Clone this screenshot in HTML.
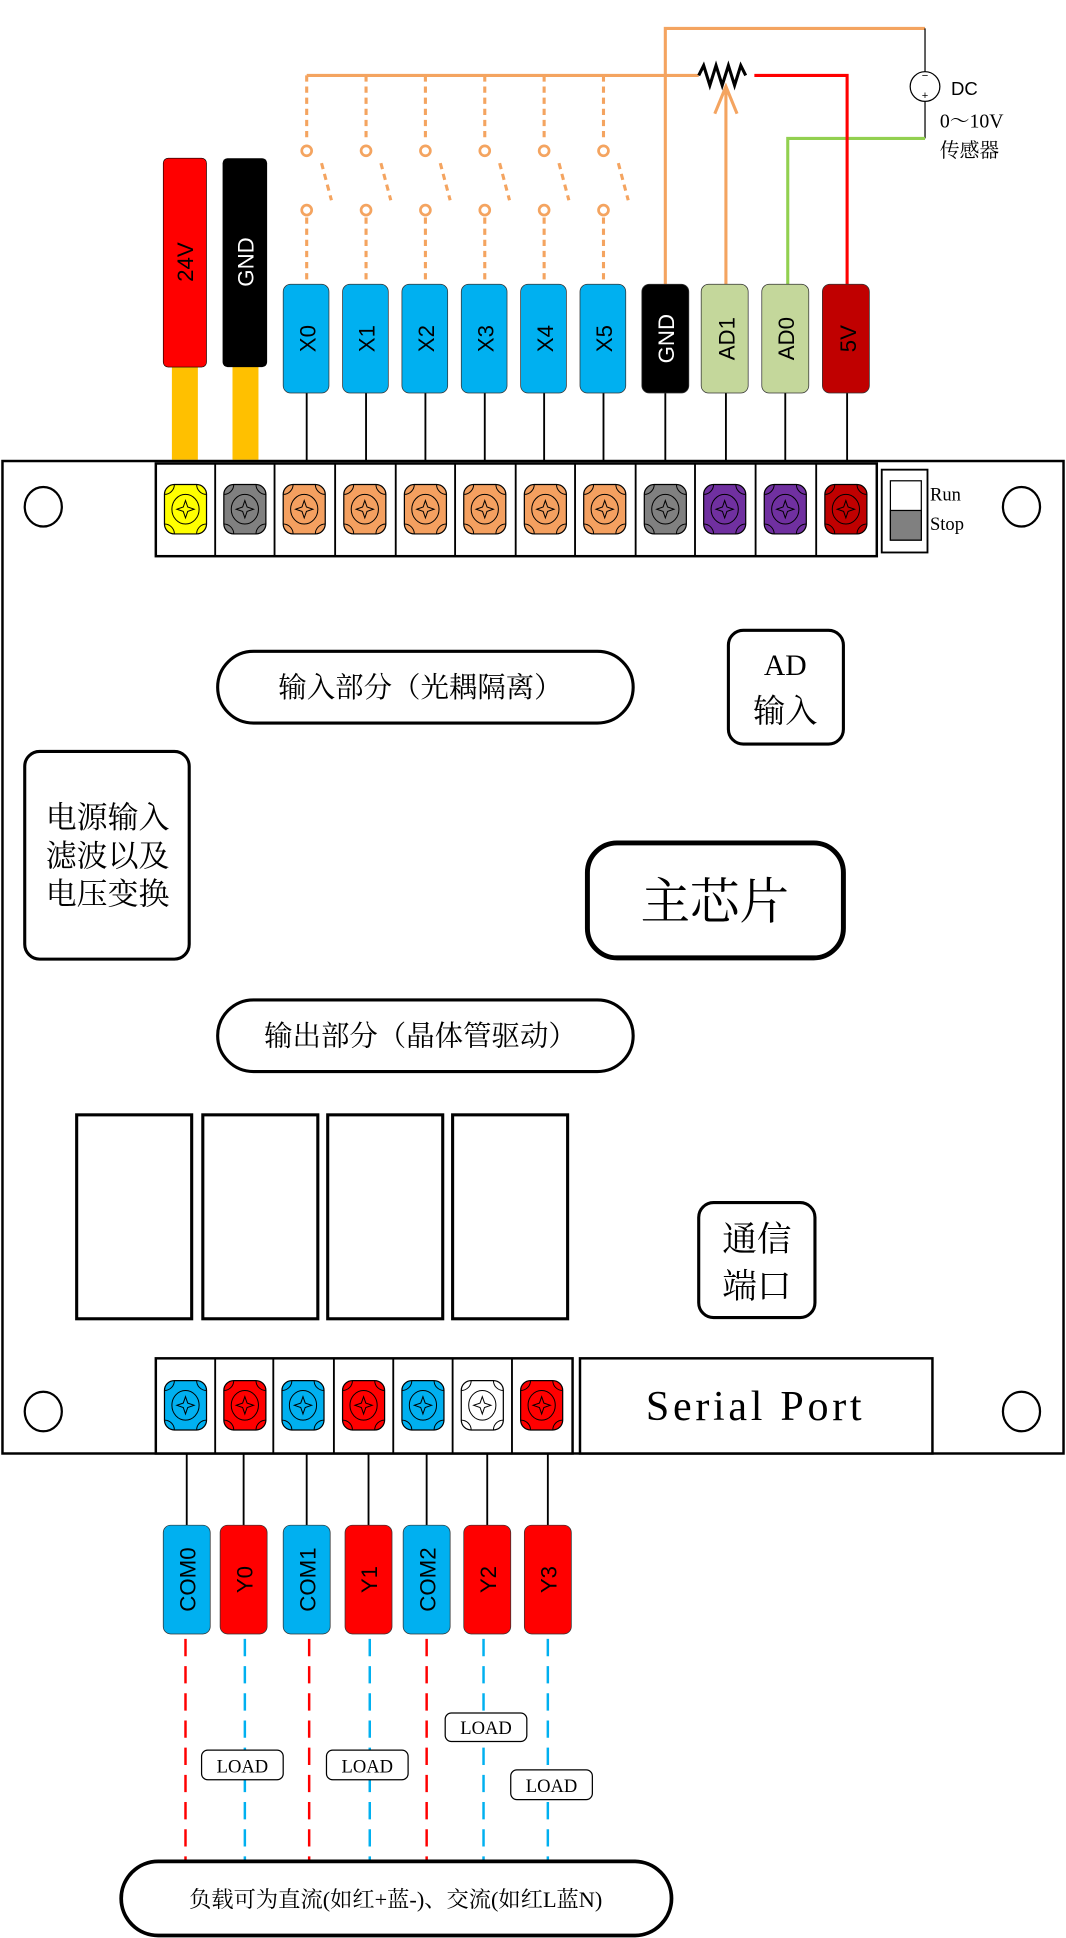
<!DOCTYPE html>
<html><head><meta charset="utf-8"><style>
html,body{margin:0;padding:0;background:#fff}
svg{display:block}
.cn{font-family:"Liberation Serif","Noto Serif CJK SC",serif}
.lb{font-family:"Liberation Sans","DejaVu Sans",sans-serif}
</style></head><body>
<svg width="1066" height="1938" viewBox="0 0 862 1568" preserveAspectRatio="none" xmlns="http://www.w3.org/2000/svg">
<defs>
<g id="sc">
<rect x="-17" y="-20" width="34" height="40" rx="8" stroke="#000" stroke-width="1"/>
<path d="M-17,-12 A8,8 0 0 0 -9,-20 M17,-12 A8,8 0 0 1 9,-20 M-17,12 A8,8 0 0 1 -9,20 M17,12 A8,8 0 0 0 9,20" fill="none" stroke="#000" stroke-width="0.8"/>
<ellipse cx="0" cy="0" rx="11" ry="12" fill="none" stroke="#000" stroke-width="0.8"/>
<path d="M0,-7 L1.8,-1.8 L7,0 L1.8,1.8 L0,7 L-1.8,1.8 L-7,0 L-1.8,-1.8Z" fill="none" stroke="#000" stroke-width="0.8"/>
</g>
</defs>

<g fill="none">
<path d="M538,230 V23 H748" stroke="#f4a460" stroke-width="2.5"/>
<path d="M248,61 H565" stroke="#f4a460" stroke-width="2.5"/>
<path d="M748,23 V58 M748,82 V112" stroke="#000" stroke-width="1"/>
<path d="M748,112 H637 V230" stroke="#92d050" stroke-width="2.5"/>
<path d="M610,61 H685 V230" stroke="#ff0000" stroke-width="2.5"/>
<path d="M565,61 l4,-8 l5,16 l5,-16 l5,16 l5,-16 l5,16 l5,-16 l4,8" stroke="#000" stroke-width="2.5"/>
<path d="M587,230 V72 M578,92 L587,70 L596,92" stroke="#f4a460" stroke-width="2.5"/>
<circle cx="748" cy="70" r="12" stroke="#000" stroke-width="1"/>
</g>
<text x="748" y="64" font-size="9" text-anchor="middle" class="lb">−</text>
<text x="748" y="80" font-size="9" text-anchor="middle" class="lb">+</text>
<text x="769" y="77" font-size="15" class="lb">DC</text>
<text x="760" y="103" font-size="16" class="cn">0～10V</text>
<text x="760" y="127" font-size="16" class="cn">传感器</text>

<g stroke="#f4a460" stroke-width="2.5" fill="none" stroke-dasharray="5,4">
<path d="M248,61V115M248,176V230M260,132L268,162"/>
<path d="M296,61V115M296,176V230M308,132L316,162"/>
<path d="M344,61V115M344,176V230M356,132L364,162"/>
<path d="M392,61V115M392,176V230M404,132L412,162"/>
<path d="M440,61V115M440,176V230M452,132L460,162"/>
<path d="M488,61V115M488,176V230M500,132L508,162"/>
</g>
<g stroke="#f4a460" stroke-width="2.2" fill="#fff">
<circle cx="248" cy="122" r="4"/><circle cx="248" cy="170" r="4"/>
<circle cx="296" cy="122" r="4"/><circle cx="296" cy="170" r="4"/>
<circle cx="344" cy="122" r="4"/><circle cx="344" cy="170" r="4"/>
<circle cx="392" cy="122" r="4"/><circle cx="392" cy="170" r="4"/>
<circle cx="440" cy="122" r="4"/><circle cx="440" cy="170" r="4"/>
<circle cx="488" cy="122" r="4"/><circle cx="488" cy="170" r="4"/>
</g>

<rect x="139" y="296" width="21" height="76" fill="#ffc000"/>
<rect x="188" y="296" width="21" height="76" fill="#ffc000"/>
<rect x="132" y="128" width="35" height="169" rx="4" fill="#ff0000" stroke="#000" stroke-width="0.5"/>
<rect x="180" y="128" width="36" height="169" rx="4" fill="#000"/>
<text transform="translate(156,212) rotate(-90)" font-size="18" text-anchor="middle" class="lb">24V</text>
<text transform="translate(205,212) rotate(-90)" font-size="18" text-anchor="middle" class="lb" fill="#fff">GND</text>

<g stroke="#000" stroke-width="1.5">
<path d="M248,318V373M296,318V373M344,318V373M392,318V373M440,318V373M488,318V373M538,318V373M587,318V373M635,318V373M685,318V373"/>
</g>
<g stroke="#333" stroke-width="0.6">
<rect x="229" y="230" width="37" height="88" rx="6" fill="#00b0f0"/>
<rect x="277" y="230" width="37" height="88" rx="6" fill="#00b0f0"/>
<rect x="325" y="230" width="37" height="88" rx="6" fill="#00b0f0"/>
<rect x="373" y="230" width="37" height="88" rx="6" fill="#00b0f0"/>
<rect x="421" y="230" width="37" height="88" rx="6" fill="#00b0f0"/>
<rect x="469" y="230" width="37" height="88" rx="6" fill="#00b0f0"/>
<rect x="519" y="230" width="38" height="88" rx="6" fill="#000"/>
<rect x="567" y="230" width="38" height="88" rx="6" fill="#c4d79b"/>
<rect x="616" y="230" width="38" height="88" rx="6" fill="#c4d79b"/>
<rect x="665" y="230" width="38" height="88" rx="6" fill="#c00000"/>
</g>
<g font-size="18" text-anchor="middle" class="lb">
<text transform="translate(255,274) rotate(-90)">X0</text>
<text transform="translate(303,274) rotate(-90)">X1</text>
<text transform="translate(351,274) rotate(-90)">X2</text>
<text transform="translate(399,274) rotate(-90)">X3</text>
<text transform="translate(447,274) rotate(-90)">X4</text>
<text transform="translate(495,274) rotate(-90)">X5</text>
<text transform="translate(545,274) rotate(-90)" fill="#fff">GND</text>
<text transform="translate(594,274) rotate(-90)">AD1</text>
<text transform="translate(642,274) rotate(-90)">AD0</text>
<text transform="translate(692,274) rotate(-90)">5V</text>
</g>

<rect x="2" y="373" width="858" height="803" fill="none" stroke="#000" stroke-width="2"/>
<g fill="none" stroke="#000" stroke-width="1.8">
<ellipse cx="35" cy="410" rx="15" ry="16"/><ellipse cx="826" cy="410" rx="15" ry="16"/>
<ellipse cx="35" cy="1142" rx="15" ry="16"/><ellipse cx="826" cy="1142" rx="15" ry="16"/>
</g>

<rect x="126" y="375" width="583" height="75" fill="#fff" stroke="#000" stroke-width="2"/>
<path d="M174,375V450M222,375V450M271,375V450M320,375V450M368,375V450M417,375V450M465,375V450M514,375V450M562,375V450M611,375V450M660,375V450" stroke="#000" stroke-width="1.5"/>
<use href="#sc" x="150" y="412" fill="#ffff00"/>
<use href="#sc" x="198" y="412" fill="#808080"/>
<use href="#sc" x="246" y="412" fill="#f4a060"/>
<use href="#sc" x="295" y="412" fill="#f4a060"/>
<use href="#sc" x="344" y="412" fill="#f4a060"/>
<use href="#sc" x="392" y="412" fill="#f4a060"/>
<use href="#sc" x="441" y="412" fill="#f4a060"/>
<use href="#sc" x="489" y="412" fill="#f4a060"/>
<use href="#sc" x="538" y="412" fill="#808080"/>
<use href="#sc" x="586" y="412" fill="#7030a0"/>
<use href="#sc" x="635" y="412" fill="#7030a0"/>
<use href="#sc" x="684" y="412" fill="#c00000"/>
<rect x="713" y="380" width="37" height="67" fill="#fff" stroke="#000" stroke-width="1.5"/>
<rect x="720" y="389" width="25" height="48" fill="#fff" stroke="#000" stroke-width="1"/>
<rect x="720" y="413" width="25" height="24" fill="#808080" stroke="#000" stroke-width="1"/>
<text x="752" y="405" font-size="15" class="cn">Run</text>
<text x="752" y="429" font-size="15" class="cn">Stop</text>

<g fill="none" stroke="#000">
<rect x="176" y="527" width="336" height="58" rx="29" stroke-width="2.5"/>
<rect x="589" y="510" width="93" height="92" rx="12" stroke-width="2.5"/>
<rect x="20" y="608" width="133" height="168" rx="12" stroke-width="2.5"/>
<rect x="475" y="682" width="207" height="93" rx="24" stroke-width="4"/>
<rect x="176" y="809" width="336" height="58" rx="29" stroke-width="2.5"/>
<rect x="62" y="902" width="93" height="165" stroke-width="2.5"/>
<rect x="164" y="902" width="93" height="165" stroke-width="2.5"/>
<rect x="265" y="902" width="93" height="165" stroke-width="2.5"/>
<rect x="366" y="902" width="93" height="165" stroke-width="2.5"/>
<rect x="565" y="973" width="94" height="93" rx="12" stroke-width="2.5"/>
</g>
<g class="cn" fill="#000">
<text x="340" y="564" font-size="23" text-anchor="middle">输入部分（光耦隔离）</text>
<text x="635" y="546" font-size="24" text-anchor="middle">AD</text>
<text x="635" y="584" font-size="26" text-anchor="middle">输入</text>
<text x="87" y="670" font-size="25" text-anchor="middle">电源输入</text>
<text x="87" y="701" font-size="25" text-anchor="middle">滤波以及</text>
<text x="87" y="732" font-size="25" text-anchor="middle">电压变换</text>
<text x="578" y="743" font-size="40" text-anchor="middle">主芯片</text>
<text x="340" y="846" font-size="23" text-anchor="middle">输出部分（晶体管驱动）</text>
<text x="612" y="1012" font-size="28" text-anchor="middle">通信</text>
<text x="612" y="1050" font-size="28" text-anchor="middle">端口</text>
</g>

<rect x="126" y="1099" width="337" height="77" fill="#fff" stroke="#000" stroke-width="2"/>
<path d="M174,1099V1176M221,1099V1176M270,1099V1176M318,1099V1176M366,1099V1176M414,1099V1176" stroke="#000" stroke-width="1.5"/>
<use href="#sc" x="150" y="1137" fill="#00b0f0"/>
<use href="#sc" x="198" y="1137" fill="#ff0000"/>
<use href="#sc" x="245" y="1137" fill="#00b0f0"/>
<use href="#sc" x="294" y="1137" fill="#ff0000"/>
<use href="#sc" x="342" y="1137" fill="#00b0f0"/>
<use href="#sc" x="390" y="1137" fill="#ffffff"/>
<use href="#sc" x="438" y="1137" fill="#ff0000"/>
<rect x="469" y="1099" width="285" height="77" fill="#fff" stroke="#000" stroke-width="2"/>
<text x="611" y="1149" font-size="34" text-anchor="middle" class="cn" letter-spacing="3">Serial Port</text>

<path d="M151,1176V1234M197,1176V1234M248,1176V1234M298,1176V1234M345,1176V1234M394,1176V1234M443,1176V1234" stroke="#000" stroke-width="1.5"/>
<g stroke="#333" stroke-width="0.6">
<rect x="132" y="1234" width="38" height="88" rx="6" fill="#00b0f0"/>
<rect x="178" y="1234" width="38" height="88" rx="6" fill="#ff0000"/>
<rect x="229" y="1234" width="38" height="88" rx="6" fill="#00b0f0"/>
<rect x="279" y="1234" width="38" height="88" rx="6" fill="#ff0000"/>
<rect x="326" y="1234" width="38" height="88" rx="6" fill="#00b0f0"/>
<rect x="375" y="1234" width="38" height="88" rx="6" fill="#ff0000"/>
<rect x="424" y="1234" width="38" height="88" rx="6" fill="#ff0000"/>
</g>
<g font-size="18" text-anchor="middle" class="lb">
<text transform="translate(158,1278) rotate(-90)">COM0</text>
<text transform="translate(204,1278) rotate(-90)">Y0</text>
<text transform="translate(255,1278) rotate(-90)">COM1</text>
<text transform="translate(305,1278) rotate(-90)">Y1</text>
<text transform="translate(352,1278) rotate(-90)">COM2</text>
<text transform="translate(401,1278) rotate(-90)">Y2</text>
<text transform="translate(450,1278) rotate(-90)">Y3</text>
</g>

<g stroke-width="2" stroke-dasharray="14,8" fill="none">
<path d="M150,1326V1508M250,1326V1508M345,1326V1508" stroke="#ff0000"/>
<path d="M198,1326V1508M299,1326V1508M391,1326V1508M443,1326V1508" stroke="#00b0f0"/>
</g>
<g fill="#fff" stroke="#000" stroke-width="1">
<rect x="163" y="1416" width="66" height="24" rx="5"/>
<rect x="264" y="1416" width="66" height="24" rx="5"/>
<rect x="360" y="1386" width="66" height="23" rx="5"/>
<rect x="413" y="1432" width="66" height="24" rx="5"/>
</g>
<g font-size="15" text-anchor="middle" class="cn">
<text x="196" y="1434">LOAD</text>
<text x="297" y="1434">LOAD</text>
<text x="393" y="1403">LOAD</text>
<text x="446" y="1450">LOAD</text>
</g>
<rect x="98" y="1506" width="445" height="60" rx="30" fill="#fff" stroke="#000" stroke-width="3"/>
<text x="320" y="1543" font-size="18" text-anchor="middle" class="cn">负载可为直流(如红+蓝-)、交流(如红L蓝N)</text>
</svg>
</body></html>
